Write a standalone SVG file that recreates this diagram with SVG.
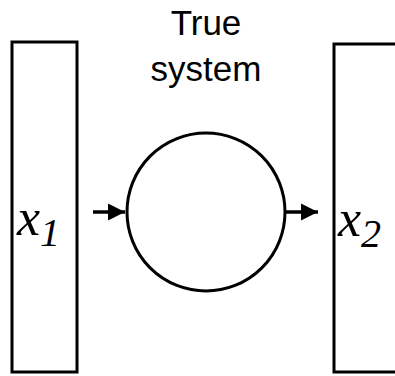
<svg xmlns="http://www.w3.org/2000/svg" width="395" height="376" viewBox="0 0 395 376">
<defs>
<style>
.box{fill:#fff;stroke:#000;stroke-width:3}
.lbl{font-family:"Liberation Sans",Arial,sans-serif;font-size:35px;fill:#000;text-anchor:middle}
.var{font-family:"Liberation Serif","Times New Roman",serif;font-style:italic;fill:#000}
.conn{stroke:#000;stroke-width:3.5;fill:none}
</style>
<marker id="ah" markerWidth="6" markerHeight="6" refX="5" refY="3" orient="auto" markerUnits="strokeWidth">
<path d="M0,0.5 L5,3 L0,5.5 Z" fill="#000"/>
</marker>
</defs>
<rect width="395" height="376" fill="#fff"/>
<g id="node-x1">
<rect class="box" x="12" y="42" width="65" height="330"/>
<text class="var" x="17" y="235" font-size="52">x<tspan font-size="40" dy="11">1</tspan></text>
</g>
<g id="node-system">
<circle class="box" cx="206" cy="212" r="79"/>
<text class="lbl" x="206" y="35">True</text>
<text class="lbl" x="206" y="81">system</text>
</g>
<g id="node-x2">
<rect class="box" x="334" y="44" width="70" height="328"/>
<text class="var" x="338" y="236" font-size="52">x<tspan font-size="40" dy="11">2</tspan></text>
</g>
<g id="connectors">
<line class="conn" x1="93" y1="212" x2="125" y2="212" marker-end="url(#ah)"/>
<line class="conn" x1="286" y1="212" x2="318" y2="212" marker-end="url(#ah)"/>
</g>
</svg>
